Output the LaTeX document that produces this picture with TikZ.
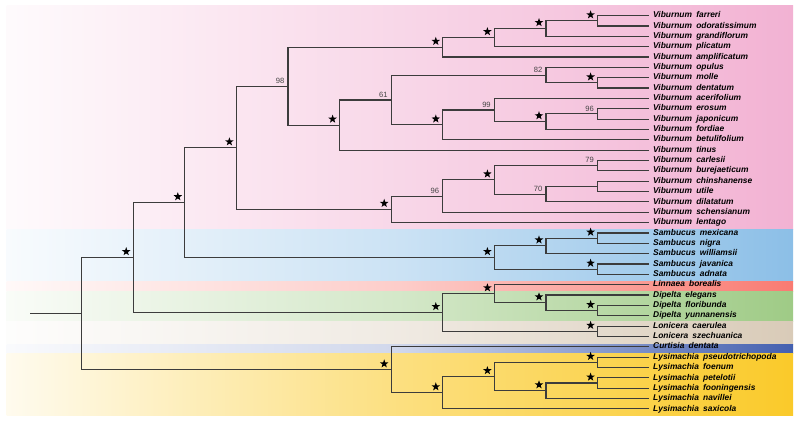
\documentclass[tikz,border=0pt]{standalone}
\usepackage{fontspec}
\setmainfont{Liberation Sans}
\usetikzlibrary{shapes.geometric,calc}
\definecolor{pinkR}{HTML}{F2B2D3}
\definecolor{blueR}{HTML}{8CBFE7}
\definecolor{redR}{HTML}{F97B72}
\definecolor{greenR}{HTML}{9FCB86}
\definecolor{beigeR}{HTML}{D9CBB8}
\definecolor{curtR}{HTML}{4460B0}
\definecolor{yellowR}{HTML}{FACA2A}
\definecolor{treeC}{HTML}{3C3C3C}
\definecolor{bsC}{HTML}{444444}
\begin{document}
\begin{tikzpicture}[x=1pt,y=-1pt,
  declare function={ly(\i)=15.6+10.35*\i;},
  br/.style={draw=treeC, line width=1.15pt},
  starm/.style={star, star points=5, star point ratio=2.5, fill=black, draw=none, inner sep=0pt, minimum size=9pt},
  bs/.style={font=\fontsize{7.6}{8}\selectfont, text=bsC, inner sep=0pt, anchor=south east},
  leaf/.style={font=\fontsize{8.4}{9}\selectfont\bfseries\itshape, inner sep=0pt, anchor=west, text height=6pt, text depth=1.7pt},
  band/.style={draw=none}]
\useasboundingbox (0,0) rectangle (798,422);
% background bands
\fill[band, left color=pinkR!6, right color=pinkR, middle color=pinkR!52] (6.7,5.6) rectangle (793,230);
\fill[band, left color=blueR!6, right color=blueR, middle color=blueR!45] (6.7,230) rectangle (793,281.7);
\fill[band, left color=redR!5, right color=redR, middle color=redR!38] (6.7,281.7) rectangle (793,291.7);
\fill[band, left color=greenR!6, right color=greenR, middle color=greenR!45] (6.7,291.7) rectangle (793,321.7);
\fill[band, left color=beigeR!4, right color=beigeR, middle color=beigeR!40] (6.7,321.7) rectangle (793,344);
\fill[band, left color=curtR!3, right color=curtR, middle color=curtR!25] (6.7,344) rectangle (793,353.3);
\fill[band, left color=yellowR!8, right color=yellowR, middle color=yellowR!60] (6.7,353.3) rectangle (793,415);
% leaves
\foreach \i/\g/\s in {0/Viburnum/farreri,1/Viburnum/odoratissimum,2/Viburnum/grandiflorum,3/Viburnum/plicatum,4/Viburnum/amplificatum,5/Viburnum/opulus,6/Viburnum/molle,7/Viburnum/dentatum,8/Viburnum/acerifolium,9/Viburnum/erosum,10/Viburnum/japonicum,11/Viburnum/fordiae,12/Viburnum/betulifolium,13/Viburnum/tinus,14/Viburnum/carlesii,15/Viburnum/burejaeticum,16/Viburnum/chinshanense,17/Viburnum/utile,18/Viburnum/dilatatum,19/Viburnum/schensianum,20/Viburnum/lentago,21/Sambucus/mexicana,22/Sambucus/nigra,23/Sambucus/williamsii,24/Sambucus/javanica,25/Sambucus/adnata,26/Linnaea/borealis,27/Dipelta/elegans,28/Dipelta/floribunda,29/Dipelta/yunnanensis,30/Lonicera/caerulea,31/Lonicera/szechuanica,32/Curtisia/dentata,33/Lysimachia/pseudotrichopoda,34/Lysimachia/foenum,35/Lysimachia/petelotii,36/Lysimachia/fooningensis,37/Lysimachia/navillei,38/Lysimachia/saxicola}{
  \coordinate (t\i) at (648.5,{ly(\i)});
  \node[leaf] (l\i) at (653,{ly(\i)}) {\g\hspace{0.5em}\s};
}
% internal nodes
\coordinate (A1) at (597.6,{ly(0.5)});
\coordinate (A2) at (546,{ly(1.25)});
\coordinate (A3) at (494.4,{ly(2.125)});
\coordinate (A4) at (442.8,{ly(3.0625)});
\coordinate (B1) at (597.6,{ly(6.5)});
\coordinate (B2) at (546,{ly(5.75)});
\coordinate (C1) at (597.6,{ly(9.5)});
\coordinate (C2) at (546,{ly(10.25)});
\coordinate (C3) at (494.4,{ly(9.125)});
\coordinate (C4) at (442.8,{ly(10.5625)});
\coordinate (B3) at (391.2,{ly(8.15625)});
\coordinate (B4) at (339.6,{ly(10.578125)});
\coordinate (B5) at (288,{ly(6.8203125)});
\coordinate (D1) at (597.6,{ly(14.5)});
\coordinate (D2) at (597.6,{ly(16.5)});
\coordinate (D3) at (546,{ly(17.25)});
\coordinate (D4) at (494.4,{ly(15.875)});
\coordinate (D5) at (442.8,{ly(17.4375)});
\coordinate (D6) at (391.2,{ly(18.71875)});
\coordinate (E1) at (236.4,{ly(12.76953)});
\coordinate (S1) at (597.6,{ly(21.5)});
\coordinate (S2) at (546,{ly(22.25)});
\coordinate (S3) at (597.6,{ly(24.5)});
\coordinate (S4) at (494.4,{ly(23.375)});
\coordinate (F1) at (184.8,{ly(18.07227)});
\coordinate (G1) at (597.6,{ly(28.5)});
\coordinate (G2) at (546,{ly(27.75)});
\coordinate (G3) at (494.4,{ly(26.875)});
\coordinate (G4) at (597.6,{ly(30.5)});
\coordinate (G5) at (442.8,{ly(28.6875)});
\coordinate (H1) at (133.2,{ly(23.37988)});
\coordinate (K1) at (597.6,{ly(33.5)});
\coordinate (K2) at (597.6,{ly(35.5)});
\coordinate (K3) at (546,{ly(36.25)});
\coordinate (K4) at (494.4,{ly(34.875)});
\coordinate (K5) at (442.8,{ly(36.4375)});
\coordinate (K6) at (391.2,{ly(34.21875)});
\coordinate (R) at (81.6,{ly(28.79932)});
\coordinate (R0) at (30,{ly(28.79932)});
% branches
\foreach \p/\c in {A1/t0,A1/t1,A2/A1,A2/t2,A3/A2,A3/t3,A4/A3,A4/t4,B1/t6,B1/t7,B2/t5,B2/B1,C1/t9,C1/t10,C2/C1,C2/t11,C3/t8,C3/C2,C4/C3,C4/t12,B3/B2,B3/C4,B4/B3,B4/t13,B5/A4,B5/B4,D1/t14,D1/t15,D2/t16,D2/t17,D3/D2,D3/t18,D4/D1,D4/D3,D5/D4,D5/t19,D6/D5,D6/t20,E1/B5,E1/D6,S1/t21,S1/t22,S2/S1,S2/t23,S3/t24,S3/t25,S4/S2,S4/S3,F1/E1,F1/S4,G1/t28,G1/t29,G2/t27,G2/G1,G3/t26,G3/G2,G4/t30,G4/t31,G5/G3,G5/G4,H1/F1,H1/G5,K1/t33,K1/t34,K2/t35,K2/t36,K3/K2,K3/t37,K4/K1,K4/K3,K5/K4,K5/t38,K6/t32,K6/K5,R/H1,R/K6}{
  \draw[br] (\p) |- (\c);
}
\draw[br] (R0) -- (R);
% stars
\foreach \n in {A1,A2,A3,A4,B1,C2,C4,B4,D4,D6,E1,S1,S2,S3,S4,F1,G1,G2,G3,G4,G5,H1,K1,K2,K3,K4,K5,K6}{
  \node[starm] (s\n) at ($(\n)+(-7,-6)$) {};
}
% bootstrap values
\foreach \n/\v in {B5/98,B3/61,B2/82,C3/99,C1/96,D5/96,D1/79,D3/70}{
  \node[bs] (b\n) at ($(\n)+(-3.5,-2.6)$) {\v};
}
\end{tikzpicture}
\end{document}
